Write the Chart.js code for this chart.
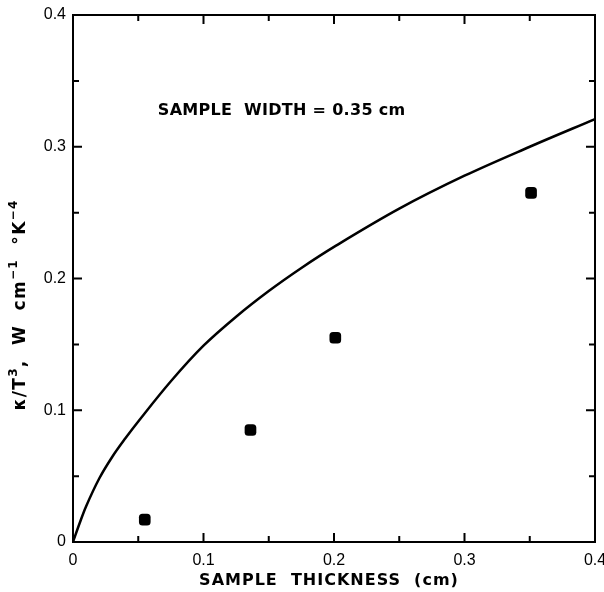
<!DOCTYPE html>
<html>
<head>
<meta charset="utf-8">
<script src="https://cdn.jsdelivr.net/npm/chart.js@4/dist/chart.umd.min.js"></script>
<style>
html,body{margin:0;padding:0;background:#fff;}
#wrap{width:604px;height:592px;}
</style>
</head>
<body>
<div id="wrap"><canvas id="c" width="604" height="592"></canvas></div>
<script>
// Theoretical curve
const curveX = [0, 0.005, 0.01, 0.02, 0.03, 0.04, 0.05, 0.075, 0.1, 0.125, 0.15, 0.175, 0.2, 0.25, 0.3, 0.35, 0.4];
const curveY = [0, 0.014, 0.027, 0.048, 0.0645, 0.0785, 0.0915, 0.122, 0.149, 0.171, 0.1905, 0.208, 0.224, 0.253, 0.278, 0.300, 0.321];
// Measured points
const pointX = [0.055, 0.136, 0.201, 0.351];
const pointY = [0.017, 0.085, 0.155, 0.265];
const tickStep = 0.05;
const axisMax = 0.4;
const xTitle = 'SAMPLE  THICKNESS  (cm)';
// y title pieces: [text, superscript?]
const yTitleParts = [['κ/T', false], ['3', true], [',  W  cm', false], ['−1', true], ['  °K', false], ['−4', true]];
const note = 'SAMPLE  WIDTH = 0.35 cm';
const noteAt = [0.065, 0.327];

function fmt(v){
  const r = Math.round(v*100)/100;
  if (Math.abs(Math.round(r*10) - r*10) > 1e-6) return '';
  if (r === 0) return '0';
  return r.toFixed(1);
}

const frame = {
  id: 'frame',
  afterDraw(chart){
    const {ctx, chartArea:a, scales:{x, y}} = chart;
    ctx.save();
    ctx.strokeStyle = '#000';
    ctx.lineWidth = 2;
    ctx.strokeRect(a.left, a.top, a.right - a.left, a.bottom - a.top);
    x.ticks.forEach(t => {
      const px = x.getPixelForValue(t.value);
      const L = fmt(t.value) !== '' ? 9 : 6;
      ctx.beginPath();
      ctx.moveTo(px, a.bottom); ctx.lineTo(px, a.bottom - L);
      ctx.moveTo(px, a.top); ctx.lineTo(px, a.top + L);
      ctx.stroke();
    });
    y.ticks.forEach(t => {
      const py = y.getPixelForValue(t.value);
      const L = fmt(t.value) !== '' ? 9 : 6;
      ctx.beginPath();
      ctx.moveTo(a.left, py); ctx.lineTo(a.left + L, py);
      ctx.moveTo(a.right, py); ctx.lineTo(a.right - L, py);
      ctx.stroke();
    });
    ctx.fillStyle = '#000';
    ctx.textBaseline = 'middle';
    // annotation
    ctx.font = 'bold 16px "DejaVu Sans"';
    ctx.letterSpacing = '0.3px';
    ctx.textAlign = 'left';
    ctx.fillText(note, x.getPixelForValue(noteAt[0]), y.getPixelForValue(noteAt[1]));
    // x title
    ctx.textAlign = 'center';
    ctx.font = 'bold 16px "DejaVu Sans"';
    ctx.letterSpacing = '1px';
    ctx.fillText(xTitle, (a.left + a.right)/2 - 5, 581);
    // y title (rotated, with superscripts)
    ctx.save();
    ctx.translate(21, 305);
    ctx.rotate(-Math.PI/2);
    ctx.textAlign = 'left';
    ctx.letterSpacing = '1.3px';
    const mainF = 'bold 17px "DejaVu Sans"', supF = 'bold 12px "DejaVu Sans"';
    let total = 0;
    yTitleParts.forEach(([s, sup]) => { ctx.font = sup ? supF : mainF; total += ctx.measureText(s).width; });
    let cx = -total/2;
    yTitleParts.forEach(([s, sup]) => {
      ctx.font = sup ? supF : mainF;
      ctx.fillText(s, cx, sup ? -7 : 0);
      cx += ctx.measureText(s).width;
    });
    ctx.restore();
    ctx.restore();
  }
};

new Chart(document.getElementById('c'), {
  type: 'scatter',
  data: {
    datasets: [
      {
        type: 'line',
        data: curveX.map((v,i) => ({x: v, y: curveY[i]})),
        borderColor: '#000',
        borderWidth: 2.5,
        pointRadius: 0,
        tension: 0.35,
        fill: false
      },
      {
        data: pointX.map((v,i) => ({x: v, y: pointY[i]})),
        pointStyle: 'rectRounded',
        pointRadius: 6.8,
        backgroundColor: '#000',
        borderColor: '#000',
        borderWidth: 0
      }
    ]
  },
  plugins: [frame],
  options: {
    responsive: false,
    animation: false,
    events: [],
    layout: {padding: {top: 15, right: 9, left: 0, bottom: 0}},
    plugins: {legend: {display: false}, tooltip: {enabled: false}},
    scales: {
      x: {
        type: 'linear', min: 0, max: axisMax,
        afterFit: s => { s.height = 50; s.paddingRight = 0; s.paddingLeft = 0; },
        grid: {display: false, drawTicks: false},
        border: {display: false},
        ticks: {stepSize: tickStep, autoSkip: false, maxRotation: 0, color: '#000', padding: 9,
          font: {family: '"Liberation Sans"', size: 16}, callback: v => fmt(v)}
      },
      y: {
        type: 'linear', min: 0, max: axisMax,
        afterFit: s => { s.width = 73; s.paddingTop = 0; s.paddingBottom = 0; },
        grid: {display: false, drawTicks: false},
        border: {display: false},
        ticks: {stepSize: tickStep, autoSkip: false, color: '#000', padding: 7,
          font: {family: '"Liberation Sans"', size: 16}, callback: v => fmt(v)}
      }
    }
  }
});
</script>
</body>
</html>
